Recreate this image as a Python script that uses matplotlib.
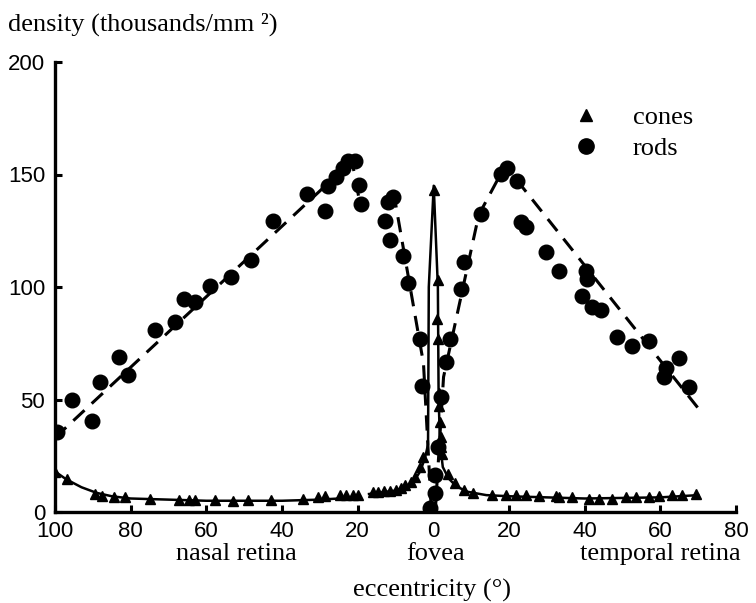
import matplotlib
matplotlib.use("Agg")
import matplotlib.pyplot as plt
from matplotlib.lines import Line2D

# ---------------- data (eccentricity: nasal negative, temporal positive) ----
rods_x = [-99.5, -95.5, -90.2, -88, -83, -80.6, -73.7, -68.4, -65.8, -62.9, -58.9,
          -53.6, -48.3, -42.4, -33.4, -28.6, -27.9, -25.7, -23.9, -22.5, -20.7,
          -19.6, -19.1, -12.7, -11.9, -10.6, -11.4, -8.0, -6.6, -3.4, -2.9,
          -0.8, 0.5, 0.5, 1.3, 1.9, 3.4, 4.5, 7.2, 8.0, 12.7, 17.8, 19.4, 22.0,
          23.3, 24.4, 29.7, 33.2, 39.3, 40.3, 40.6, 41.9, 44.3, 48.5, 52.5, 57.0,
          61.0, 61.5, 65.0, 67.6]
rods_y = [35.7, 50, 40.6, 58, 69, 60.7, 81, 84.4, 94.6, 93.3, 100.4,
          104.5, 112, 129.5, 141.5, 134, 145, 148.7, 152.7, 156, 156,
          145.5, 137, 129.5, 138, 140, 121, 114, 102, 76.8, 55.8,
          2, 8.5, 16.5, 29, 51, 66.5, 77, 99, 111, 132.6, 150.4, 152.7, 147,
          129, 126.8, 115.6, 107, 96, 107, 103.6, 91, 90, 78, 73.6, 76,
          60, 64, 68.5, 55.4]

cones_x = [-100, -96.8, -89.4, -87.5, -84.4, -81.4, -74.8, -67.1, -64.5, -63.1,
           -57.8, -53, -49, -43, -34.5, -30.5, -28.6, -24.7, -23, -21.2, -19.9,
           -16, -14.5, -13, -11.5, -10, -8.5, -7.4, -6, -4.8, -3.4, -2.6,
           0.3, 1.3, 1.0, 1.2, 1.5, 1.6, 1.7, 1.9, 2.0, 2.2, 4.0, 5.8, 8.0, 10.6,
           15.4, 19.1, 21.8, 24.4, 27.9, 32.4, 33.2, 36.6, 41.1, 43.8, 47.2,
           50.9, 53.6, 57, 59.7, 63.1, 65.8, 69.5]
cones_y = [17.9, 14.7, 8, 7, 6.5, 6.5, 6, 5.5, 5.5, 5.5,
           5.5, 5, 5.5, 5.5, 6, 6.5, 7, 7.5, 7.5, 7.5, 7.5,
           9, 9, 9.5, 9.5, 10, 10.5, 12, 13.5, 15.6, 20, 24.5,
           143, 103, 86, 77, 53, 47, 40, 33.5, 29, 26, 17, 13, 10, 8.5,
           7.5, 7.5, 7.5, 7.5, 7, 7, 6.5, 6.5, 6, 6, 6, 6.5, 6.5, 6.5, 7, 7.5, 7.5, 8]

# fitted curves (drawn as in the original figure)
rod_fit_nasal_x = [-100, -21.5, -19.5]
rod_fit_nasal_y = [33, 156, 138]
rod_fit_central_x = [-10.5, -2.6, -0.5, 0.5, 2.7, 12, 19, 70.3]
rod_fit_central_y = [142, 66, 0, 0, 60, 132, 154, 45.5]

cone_fit_nasal_x = [-100, -97, -93, -89, -85, -80, -70, -60, -50, -40, -30, -25, -19.5]
cone_fit_nasal_y = [18, 14.5, 11, 8.5, 7, 6, 5.5, 5, 5, 5, 5.5, 6, 7]
cone_fit_central_x = [-17, -10, -7, -5, -3.5, -2.2, -1.4, -1.2, 0.1, 1.2, 1.4, 1.8,
                      2.5, 4, 6, 9, 14, 20, 40, 60, 70]
cone_fit_central_y = [8, 9.5, 11.5, 14, 18, 24, 30, 100, 145, 100, 50, 30,
                      20, 15, 11.5, 9, 7.5, 7, 6, 6.5, 7.5]

x_ticks = [-100, -80, -60, -40, -20, 0, 20, 40, 60, 80]
x_tick_labels = ["100", "80", "60", "40", "20", "0", "20", "40", "60", "80"]
y_ticks = [0, 50, 100, 150, 200]

# ---------------- figure ----------------
serif = "Liberation Serif"
sans = "Liberation Sans"
W, H = 756, 603

fig = plt.figure(figsize=(7.56, 6.03), dpi=100)
fig.patch.set_facecolor("white")
ax = fig.add_axes([55 / W, 1 - 512 / H, (736 - 55) / W, 450 / H])

ax.plot(cone_fit_nasal_x, cone_fit_nasal_y, color="black", lw=1.8, solid_joinstyle="round")
ax.plot(cone_fit_central_x, cone_fit_central_y, color="black", lw=1.8, solid_joinstyle="round")
ax.plot(rod_fit_nasal_x, rod_fit_nasal_y, color="black", lw=2.2, dashes=(5, 3.2))
ax.plot(rod_fit_central_x, rod_fit_central_y, color="black", lw=2.2, dashes=(5, 3.2))

ax.plot(cones_x, cones_y, linestyle="none", marker="^", color="black", markersize=7.5)
ax.plot(rods_x, rods_y, linestyle="none", marker="o", color="black", markersize=10.5)

ax.set_xlim(-100, 80)
ax.set_ylim(0, 200)
ax.set_xticks(x_ticks)
ax.set_xticklabels(x_tick_labels)
ax.set_yticks(y_ticks)

for s in ["top", "right"]:
    ax.spines[s].set_visible(False)
for s in ["left", "bottom"]:
    ax.spines[s].set_linewidth(2.4)
ax.tick_params(axis="both", direction="in", length=5, width=2.2, labelsize=16)
ax.tick_params(axis="x", pad=6.5)
ax.tick_params(axis="y", pad=7)
for lab in ax.get_xticklabels() + ax.get_yticklabels():
    lab.set_fontfamily(sans)

# legend
handles = [Line2D([], [], linestyle="none", marker="^", color="black", markersize=9),
           Line2D([], [], linestyle="none", marker="o", color="black", markersize=11)]
ax.legend(handles, ["cones", "rods"], loc="upper left",
          bbox_to_anchor=((560 - 55) / 681, (512 - 106) / 450),
          frameon=False, prop={"family": serif, "size": 19}, handlelength=2.0,
          handletextpad=0.75, labelspacing=0.27, borderaxespad=0, borderpad=0)

# texts
fig.text(8 / W, 1 - 31 / H, "density (thousands/mm \u00b2)", family=serif, fontsize=19,
         ha="left", va="baseline")
fig.text(236 / W, 1 - 560 / H, "nasal retina", family=serif, fontsize=19, ha="center", va="baseline")
fig.text(436 / W, 1 - 560 / H, "fovea", family=serif, fontsize=19, ha="center", va="baseline")
fig.text(660 / W, 1 - 560 / H, "temporal retina", family=serif, fontsize=19, ha="center", va="baseline")
fig.text(432 / W, 1 - 597 / H, "eccentricity (\u00b0)", family=serif, fontsize=19, ha="center", va="baseline")

fig.savefig("out.png", dpi=100, facecolor="white")
